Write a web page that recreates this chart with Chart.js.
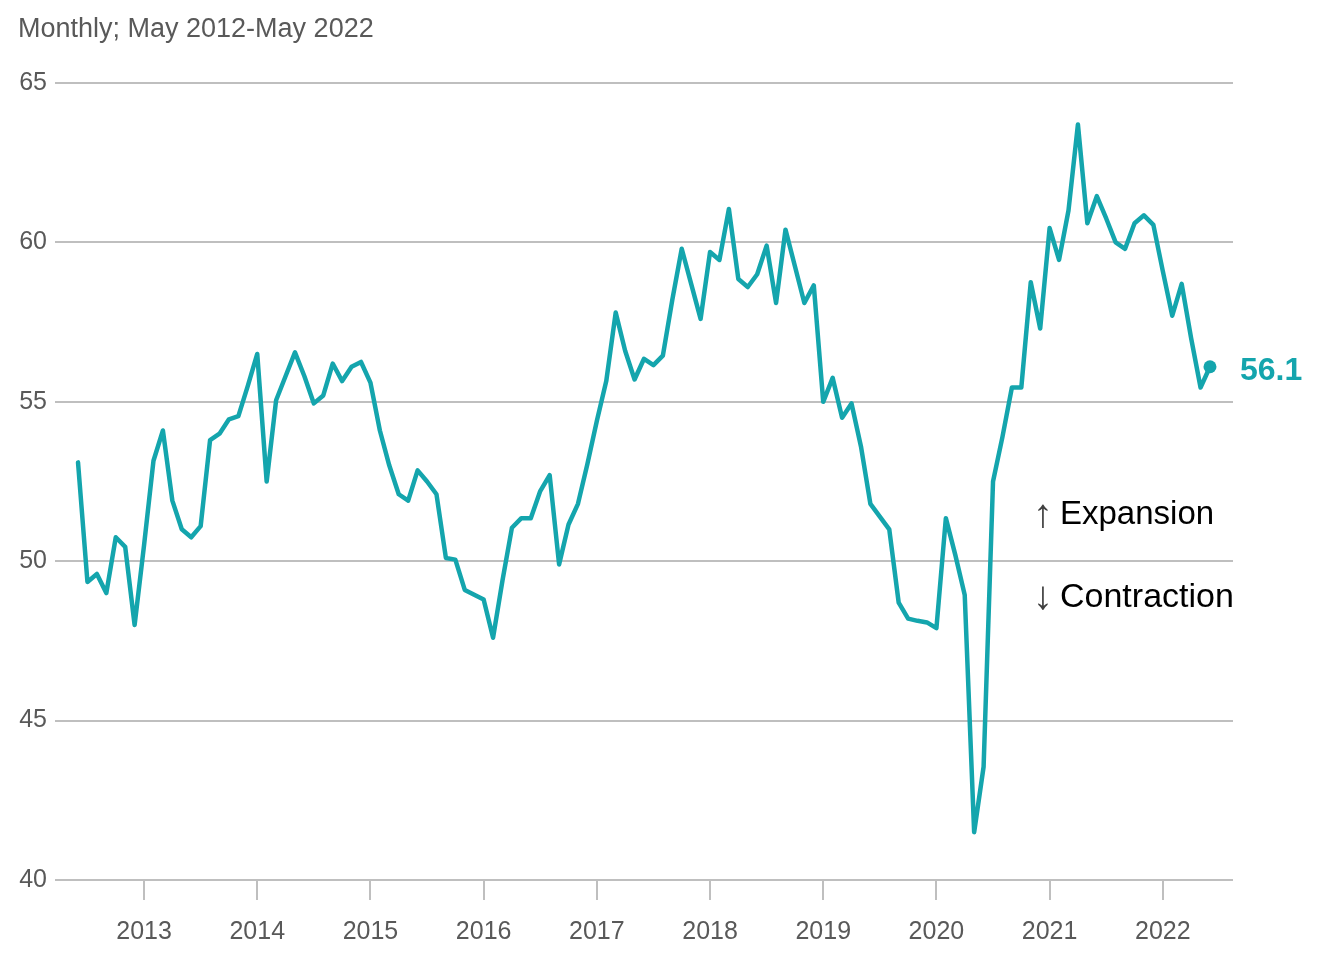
<!DOCTYPE html>
<html><head><meta charset="utf-8">
<script src="https://cdn.jsdelivr.net/npm/chart.js@4/dist/chart.umd.min.js"></script>
<style>html,body{margin:0;padding:0;background:#fff;}#wrap{width:1333px;height:965px;}</style>
</head><body><div id="wrap"><canvas id="c" width="1333" height="965"></canvas></div>
<script>
// ---- data ----
const titleText = 'Monthly; May 2012-May 2022';
const startYear = 2012;
const startMonth = 5; // May
const pmiValues = [
  53.1, 49.35, 49.6, 49.0, 50.75, 50.45, 48.0, 50.5,            // May-Dec 2012
  53.15, 54.1, 51.9, 51.0, 50.75, 51.1, 53.8, 54.0, 54.45, 54.55, 55.5, 56.5, // 2013
  52.5, 55.05, 55.8, 56.55, 55.8, 54.95, 55.2, 56.2, 55.65, 56.1, 56.25, 55.6, // 2014
  54.1, 53.0, 52.1, 51.9, 52.85, 52.5, 52.1, 50.1, 50.05, 49.1, 48.95, 48.8, // 2015
  47.6, 49.4, 51.05, 51.35, 51.35, 52.2, 52.7, 49.9, 51.15, 51.8, 53.05, 54.4, // 2016
  55.65, 57.8, 56.6, 55.7, 56.35, 56.15, 56.45, 58.2, 59.8, 58.7, 57.6, 59.7, // 2017
  59.45, 61.05, 58.85, 58.6, 59.0, 59.9, 58.1, 60.4, 59.25, 58.1, 58.65, 55.0, // 2018
  55.75, 54.5, 54.95, 53.6, 51.8, 51.4, 51.0, 48.7, 48.2, 48.13, 48.08, 47.9, // 2019
  51.35, 50.2, 48.94, 41.5, 43.55, 52.5, 53.9, 55.45, 55.45, 58.75, 57.3, 60.45, // 2020
  59.45, 61.0, 63.7, 60.6, 61.45, 60.75, 60.0, 59.8, 60.6, 60.85, 60.55, 59.1, // 2021
  57.7, 58.7, 57.0, 55.45, 56.1                                  // Jan-May 2022
];
const yearLabels = ['2013','2014','2015','2016','2017','2018','2019','2020','2021','2022'];
const yTickValues = [40, 45, 50, 55, 60, 65];
const upText = 'Expansion';
const downText = 'Contraction';

// ---- build ----
const teal = '#14a5ad';
const gridColor = '#bfbfbf';
const textGray = '#595959';
const FONT = '"Liberation Sans", Arial, "DejaVu Sans", sans-serif';

const linePoints = pmiValues.map((v, i) => ({ x: i, y: v }));
const lastIdx = pmiValues.length - 1;
const lastPoint = [{ x: lastIdx, y: pmiValues[lastIdx] }];
// year boundary (1 Jan) sits at the December observation of the previous year
const yearTickPos = yearLabels.map(y => (parseInt(y, 10) - startYear) * 12 - (startMonth - 1) - 1);

const annotations = {
  id: 'annotations',
  afterDatasetsDraw(chart) {
    const ctx = chart.ctx;
    const ys = chart.scales.y;
    const area = chart.chartArea;
    ctx.save();
    // subtitle
    ctx.font = '27px ' + FONT;
    ctx.fillStyle = textGray;
    ctx.textAlign = 'left';
    ctx.textBaseline = 'alphabetic';
    ctx.fillText(titleText, 18, 37);
    // last value label
    const pt = chart.getDatasetMeta(1).data[0];
    ctx.font = 'bold 32px ' + FONT;
    ctx.fillStyle = teal;
    ctx.textBaseline = 'middle';
    ctx.fillText(pmiValues[lastIdx].toFixed(1), pt.x + 30, pt.y + 4);
    // expansion / contraction
    const y50 = ys.getPixelForValue(50);
    const ax = area.right - 190;
    ctx.textBaseline = 'alphabetic';
    ctx.font = '40px ' + FONT;
    ctx.fillStyle = '#404040';
    ctx.textAlign = 'center';
    ctx.fillText('\u2191', ax, y50 - 34);
    ctx.fillText('\u2193', ax, y50 + 48);
    ctx.fillStyle = '#000';
    ctx.textAlign = 'left';
    ctx.font = '33px ' + FONT;
    ctx.fillText(upText, area.right - 173, y50 - 37);
    ctx.font = '34px ' + FONT;
    ctx.fillText(downText, area.right - 173, y50 + 46);
    ctx.restore();
  }
};

new Chart(document.getElementById('c'), {
  type: 'line',
  data: {
    datasets: [
      { data: linePoints, borderColor: teal, borderWidth: 4.5, pointRadius: 0, tension: 0,
        borderJoinStyle: 'round', borderCapStyle: 'round', fill: false },
      { data: lastPoint, borderColor: teal, backgroundColor: teal, pointRadius: 6.5, pointBorderWidth: 0,
        showLine: false }
    ]
  },
  options: {
    responsive: false,
    animation: false,
    devicePixelRatio: 1,
    layout: { padding: { left: 0, right: 100, top: 83, bottom: 0 } },
    plugins: { legend: { display: false }, tooltip: { enabled: false }, title: { display: false } },
    scales: {
      x: {
        type: 'linear',
        min: -2.44,
        max: lastIdx + 2.44,
        afterFit(s) { s.height = 85; },
        afterBuildTicks(s) { s.ticks = yearTickPos.map(v => ({ value: v })); },
        border: { display: false },
        grid: { drawOnChartArea: false, drawTicks: true, tickLength: 20, color: gridColor, lineWidth: 2 },
        ticks: {
          autoSkip: false, maxRotation: 0, padding: 17,
          color: textGray, font: { family: FONT, size: 25 },
          callback: (v) => { const k = yearTickPos.indexOf(v); return k >= 0 ? yearLabels[k] : ''; }
        }
      },
      y: {
        min: 40, max: 65,
        afterFit(s) { s.width = 55; },
        afterBuildTicks(s) { s.ticks = yTickValues.map(v => ({ value: v })); },
        border: { display: false },
        grid: { drawTicks: false, color: gridColor, lineWidth: 2 },
        ticks: { padding: 8, color: textGray, font: { family: FONT, size: 25 } }
      }
    }
  },
  plugins: [annotations]
});
</script>
</body></html>
